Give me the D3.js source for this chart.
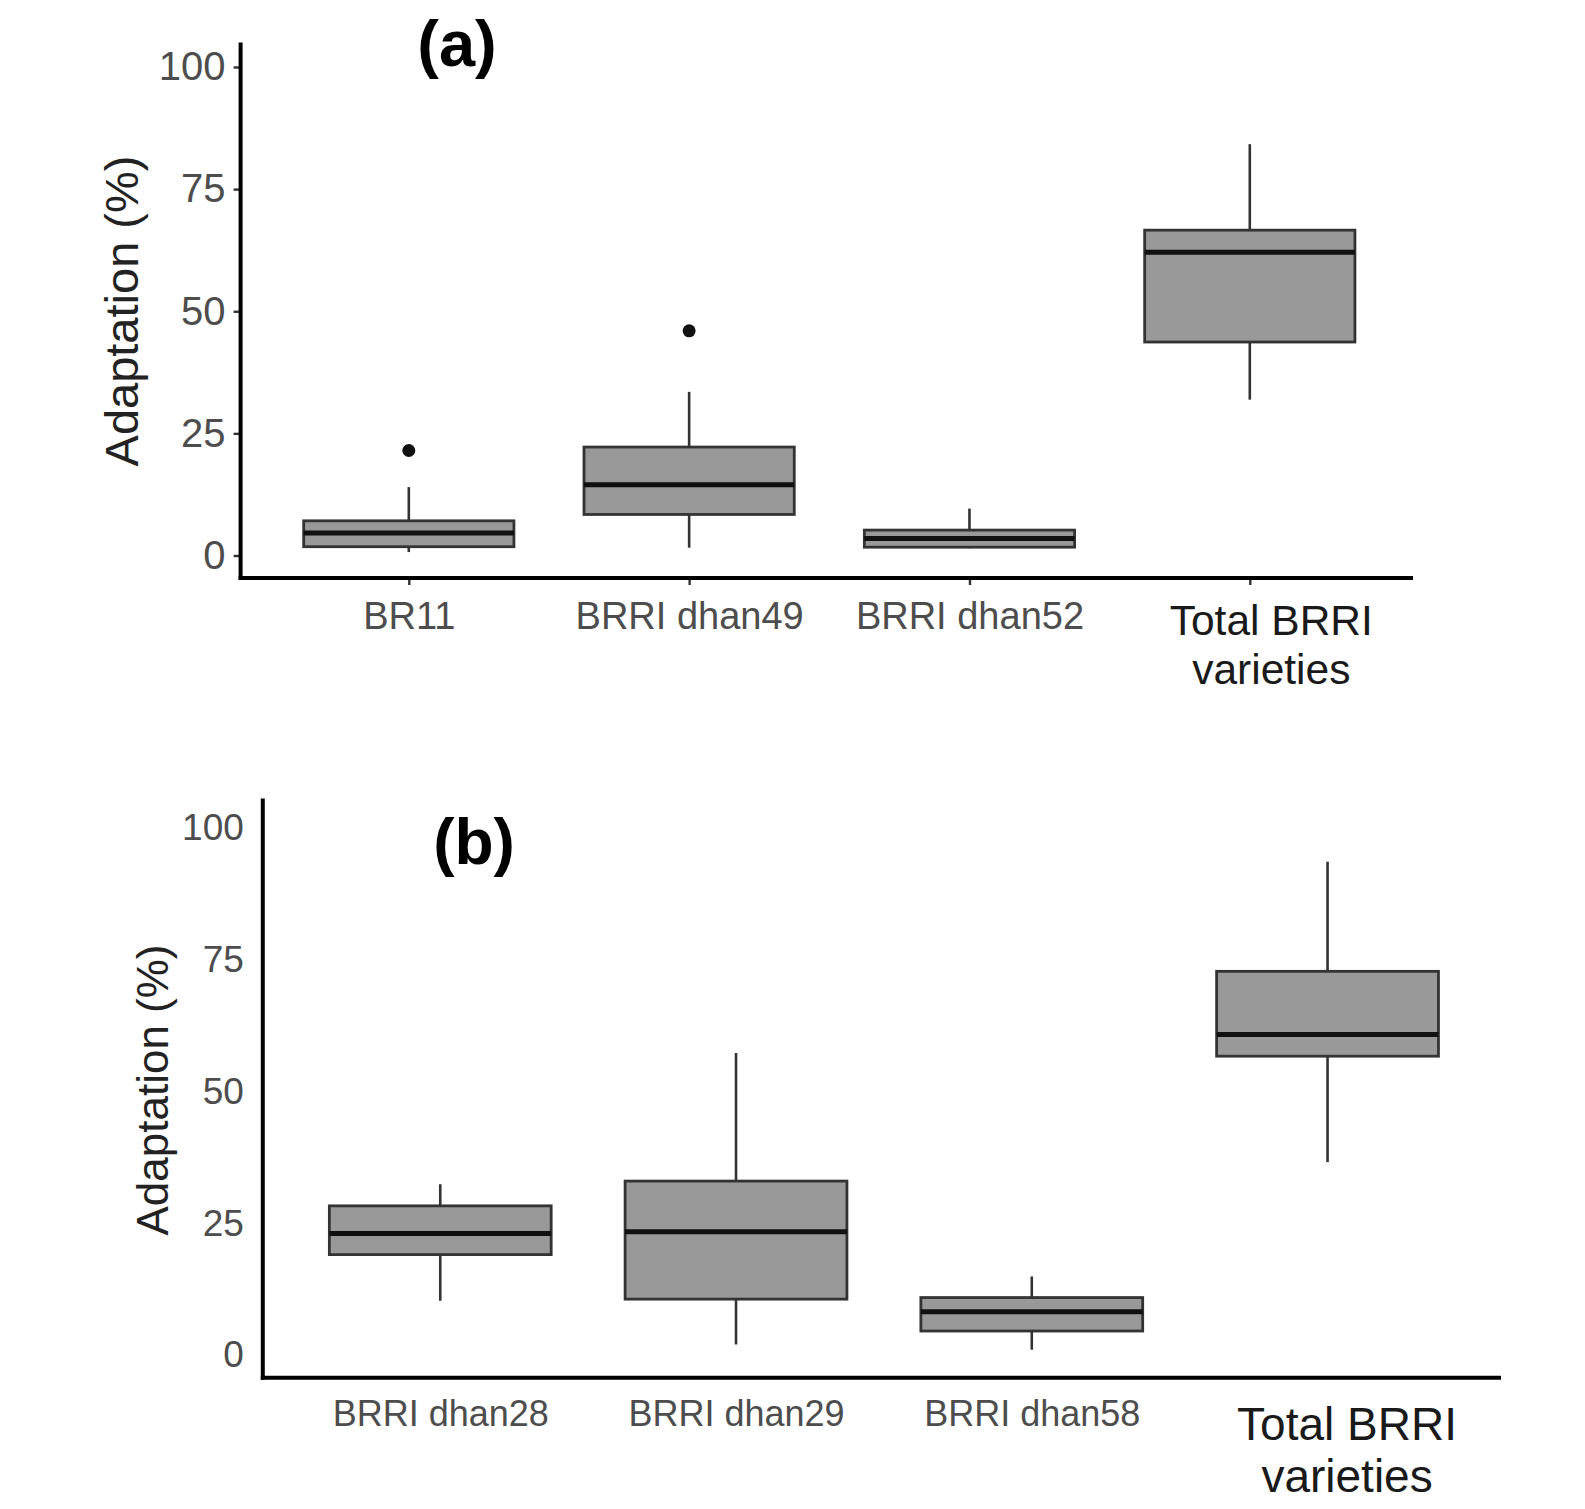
<!DOCTYPE html>
<html>
<head>
<meta charset="utf-8">
<script src="https://cdn.jsdelivr.net/npm/d3@7/dist/d3.min.js"></script>
<style>
  html, body { margin: 0; padding: 0; background: #ffffff; }
  svg { display: block; }
</style>
</head>
<body>
<svg id="chart" width="1585" height="1509"></svg>
<script>
// ---------- DATA ----------
const yTicks = [0, 25, 50, 75, 100];

const catsA = ["BR11", "BRRI dhan49", "BRRI dhan52", "Total BRRI varieties"];
const minA    = [0.7, 1.6, 1.5, 31.9];
const q1A     = [1.8, 8.4, 1.7, 43.7];
const medianA = [4.6, 14.5, 3.5, 62.1];
const q3A     = [7.1, 22.2, 5.2, 66.6];
const maxA    = [14.0, 33.5, 9.6, 84.2];
const outA    = [[21.5], [46.0], [], []];

const catsB = ["BRRI dhan28", "BRRI dhan29", "BRRI dhan58", "Total BRRI varieties"];
const minB    = [10.3, 2.0, 1.0, 36.6];
const q1B     = [19.05, 10.6, 4.55, 56.7];
const medianB = [23.05, 23.4, 8.2, 60.8];
const q3B     = [28.3, 33.0, 10.9, 72.8];
const maxB    = [32.4, 57.3, 14.9, 93.6];
const outB    = [[], [], [], []];

// ---------- DRAW ----------
const svg = d3.select("#chart");
const FONT = "'Liberation Sans', Arial, Helvetica, sans-serif";

function panel(cfg) {
  const g = svg.append("g");
  const x = d3.scalePoint().domain(cfg.cats).range([cfg.left, cfg.right]).padding(0.6);
  const y = d3.scaleLinear().domain([0, 100]).range([cfg.y0, cfg.y100]);
  const bw = x.step() * 0.75;

  const data = cfg.cats.map((c, i) => ({
    cat: c, min: cfg.min[i], q1: cfg.q1[i], med: cfg.med[i], q3: cfg.q3[i], max: cfg.max[i], out: cfg.out[i]
  }));

  const box = g.selectAll("g.box").data(data).join("g").attr("class", "box");
  box.append("line")
    .attr("x1", d => x(d.cat)).attr("x2", d => x(d.cat))
    .attr("y1", d => y(d.q3)).attr("y2", d => y(d.max))
    .attr("stroke", "#333333").attr("stroke-width", 2.6);
  box.append("line")
    .attr("x1", d => x(d.cat)).attr("x2", d => x(d.cat))
    .attr("y1", d => y(d.q1)).attr("y2", d => y(d.min))
    .attr("stroke", "#333333").attr("stroke-width", 2.6);
  box.append("rect")
    .attr("x", d => x(d.cat) - bw / 2).attr("width", bw)
    .attr("y", d => y(d.q3)).attr("height", d => y(d.q1) - y(d.q3))
    .attr("fill", "#999999").attr("stroke", "#333333").attr("stroke-width", 2.8);
  box.append("line")
    .attr("x1", d => x(d.cat) - bw / 2).attr("x2", d => x(d.cat) + bw / 2)
    .attr("y1", d => y(d.med)).attr("y2", d => y(d.med))
    .attr("stroke", "#111111").attr("stroke-width", 5);
  box.selectAll("circle").data(d => d.out.map(v => ({ cat: d.cat, v })))
    .join("circle")
    .attr("cx", d => x(d.cat)).attr("cy", d => y(d.v)).attr("r", 6.5)
    .attr("fill", "#111111");

  // y axis
  const yAxis = d3.axisLeft(y).tickValues(yTicks).tickSize(cfg.tickLen).tickPadding(cfg.yPad);
  const ya = g.append("g").attr("transform", `translate(${cfg.left},0)`).call(yAxis);
  ya.select(".domain").remove();
  ya.selectAll(".tick line").attr("stroke", "#333333").attr("stroke-width", 2.4);
  ya.selectAll(".tick text").attr("fill", "#4d4d4d").style("font-family", FONT)
    .style("font-size", cfg.yFont + "px");

  // x axis
  const xAxis = d3.axisBottom(x).tickSize(cfg.tickLen).tickPadding(8);
  const xa = g.append("g").attr("transform", `translate(0,${cfg.axisY})`).call(xAxis);
  xa.select(".domain").remove();
  xa.selectAll(".tick line").attr("stroke", "#333333").attr("stroke-width", 2.4);
  xa.selectAll(".tick text").each(function (d) {
    const t = d3.select(this);
    t.text(null).attr("y", null).attr("dy", null).style("font-family", FONT);
    if (d.startsWith("Total")) {
      t.attr("fill", "#1a1a1a").style("font-size", cfg.totFont + "px");
      t.append("tspan").attr("x", cfg.totShift).attr("y", cfg.totBase1).text("Total BRRI");
      t.append("tspan").attr("x", cfg.totShift).attr("y", cfg.totBase2).text("varieties");
    } else {
      t.attr("fill", "#4d4d4d").style("font-size", cfg.xFont + "px").attr("y", cfg.xBase).text(d);
    }
  });

  // axis lines
  g.append("line").attr("x1", cfg.left).attr("x2", cfg.left)
    .attr("y1", cfg.top).attr("y2", cfg.axisY + 2)
    .attr("stroke", "#000000").attr("stroke-width", 4);
  g.append("line").attr("x1", cfg.left - 2).attr("x2", cfg.axisEnd)
    .attr("y1", cfg.axisY).attr("y2", cfg.axisY)
    .attr("stroke", "#000000").attr("stroke-width", 4);

  // y axis title
  g.append("text")
    .attr("transform", `translate(${cfg.titleX},${cfg.titleY}) rotate(-90)`)
    .attr("text-anchor", "middle")
    .attr("fill", "#222222")
    .style("font-family", FONT).style("font-size", cfg.titleFont + "px")
    .text("Adaptation (%)");

  // panel tag
  g.append("text")
    .attr("x", cfg.tagX).attr("y", cfg.tagY)
    .attr("text-anchor", "middle")
    .attr("fill", "#000000")
    .style("font-family", FONT).style("font-weight", "bold").style("font-size", cfg.tagFont + "px")
    .text(cfg.tag);
}

panel({
  cats: catsA, min: minA, q1: q1A, med: medianA, q3: q3A, max: maxA, out: outA,
  left: 240.6, right: 1418, axisEnd: 1413, axisY: 578, y0: 555.5, y100: 67, top: 42.5,
  tickLen: 7, yPad: 8, yFont: 40, xFont: 38, totFont: 42.5, totShift: 21,
  xBase: 51, totBase1: 57, totBase2: 106,
  titleX: 138, titleY: 311, titleFont: 47,
  tag: "(a)", tagX: 457, tagY: 66, tagFont: 65
});

panel({
  cats: catsB, min: minB, q1: q1B, med: medianB, q3: q3B, max: maxB, out: outB,
  left: 262.8, right: 1505, axisEnd: 1501, axisY: 1377.7, y0: 1355, y100: 828, top: 798.5,
  tickLen: 0, yPad: 19, yFont: 37, xFont: 36, totFont: 46, totShift: 19,
  xBase: 48, totBase1: 62, totBase2: 114,
  titleX: 168, titleY: 1090, titleFont: 44,
  tag: "(b)", tagX: 474, tagY: 864, tagFont: 64
});
</script>
</body>
</html>
